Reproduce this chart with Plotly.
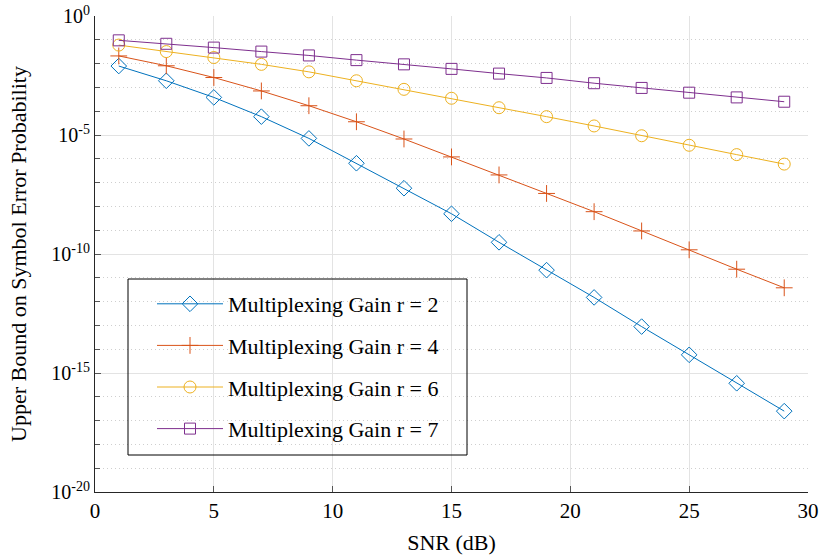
import plotly.graph_objects as go

snr = [1, 3, 5, 7, 9, 11, 13, 15, 17, 19, 21, 23, 25, 27, 29]

ser_r2 = [7.9e-3, 1.9e-3, 3.8e-4, 5.9e-5, 7.2e-6, 6.5e-7, 5.8e-8, 4.9e-9,
          3.1e-10, 2.1e-11, 1.5e-12, 8.9e-14, 5.8e-15, 3.7e-16, 2.5e-17]
ser_r4 = [2.1e-2, 8.1e-3, 2.6e-3, 7.1e-4, 1.7e-4, 3.6e-5, 6.8e-6, 1.2e-6,
          2.1e-7, 3.5e-8, 6.0e-9, 9.3e-10, 1.5e-10, 2.3e-11, 3.8e-12]
ser_r6 = [6.0e-2, 3.2e-2, 1.8e-2, 9.3e-3, 4.5e-3, 1.9e-3, 8.3e-4, 3.5e-4,
          1.4e-4, 5.9e-5, 2.4e-5, 9.3e-6, 3.7e-6, 1.5e-6, 6.0e-7]
ser_r7 = [9.5e-2, 6.8e-2, 4.7e-2, 3.2e-2, 2.2e-2, 1.4e-2, 9.3e-3, 6.0e-3,
          3.8e-3, 2.5e-3, 1.5e-3, 9.5e-4, 6.0e-4, 3.8e-4, 2.5e-4]

series_names = ["Multiplexing Gain r = 2", "Multiplexing Gain r = 4",
                "Multiplexing Gain r = 6", "Multiplexing Gain r = 7"]

x_ticks = [0, 5, 10, 15, 20, 25, 30]
y_major_exp = [0, -5, -10, -15, -20]
y_minor_exp = [e for e in range(0, -21, -1) if e % 5 != 0]

FONT = "Liberation Serif"
colors = ["#0072BD", "#D95319", "#EDB120", "#7E2F8E"]
symbols = ["diamond-open", "cross-thin-open", "circle-open", "square-open"]
sizes = [12, 12, 12, 11]

W, H = 822, 556
L, R, T, B = 95, 14, 16, 64
PW, PH = W - L - R, H - T - B


def px_x(p):  # window px -> paper fraction
    return (p - L) / PW


def px_y(p):
    return (H - B - p) / PH


fig = go.Figure()
for i, ys in enumerate([ser_r2, ser_r4, ser_r6, ser_r7]):
    fig.add_trace(go.Scatter(
        x=snr, y=ys, mode="lines+markers", name=series_names[i],
        legendgroup=f"g{i}",
        line=dict(color=colors[i], width=1),
        marker=dict(symbol=symbols[i], size=sizes[i],
                    line=dict(color=colors[i], width=1), color=colors[i]),
    ))

# legend frame
fig.add_shape(type="rect", xref="paper", yref="paper",
              x0=px_x(128), x1=px_x(467), y0=px_y(455), y1=px_y(279),
              line=dict(color="black", width=1), fillcolor="rgba(0,0,0,0)",
              layer="above")

fig.update_layout(
    width=W, height=H,
    margin=dict(l=L, r=R, t=T, b=B),
    paper_bgcolor="white", plot_bgcolor="white",
    font=dict(family=FONT, size=20, color="black"),
    showlegend=True,
    legend=dict(
        x=px_x(152), y=px_y(283), xanchor="left", yanchor="top",
        borderwidth=0, bgcolor="rgba(0,0,0,0)",
        font=dict(family=FONT, size=22, color="black"),
        tracegroupgap=10,
        itemwidth=66,
    ),
)

fig.update_xaxes(
    range=[0, 30], tickvals=x_ticks, ticktext=[str(v) for v in x_ticks],
    showline=True, linecolor="#262626", linewidth=1, mirror=False,
    ticks="inside", ticklen=6, tickcolor="#555555", tickwidth=1,
    showgrid=True, gridcolor="#e3e3e3", gridwidth=1,
    zeroline=False, automargin=False,
    title=dict(text="SNR (dB)", font=dict(family=FONT, size=22), standoff=12),
    tickfont=dict(family=FONT, size=21),
)

fig.update_yaxes(
    type="log", range=[-20, 0],
    tickvals=[10.0 ** e for e in y_major_exp],
    ticktext=[f"10<sup>{e}</sup>" for e in y_major_exp],
    showline=True, linecolor="#262626", linewidth=1, mirror=False,
    ticks="inside", ticklen=6, tickcolor="#555555", tickwidth=1,
    showgrid=True, gridcolor="#e3e3e3", gridwidth=1,
    zeroline=False, automargin=False,
    minor=dict(tickvals=[10.0 ** e for e in y_minor_exp], ticks="inside",
               ticklen=5, tickcolor="#555555", showgrid=True,
               gridcolor="#cfcfcf", griddash="1px,3px", gridwidth=1),
    title=dict(text="Upper Bound on Symbol Error Probability",
               font=dict(family=FONT, size=22), standoff=18),
    tickfont=dict(family=FONT, size=20),
)

fig.write_html("out.html",
               config={"displayModeBar": False},
               post_script="document.body.style.margin='0';"
                           "document.body.style.overflow='hidden';")
